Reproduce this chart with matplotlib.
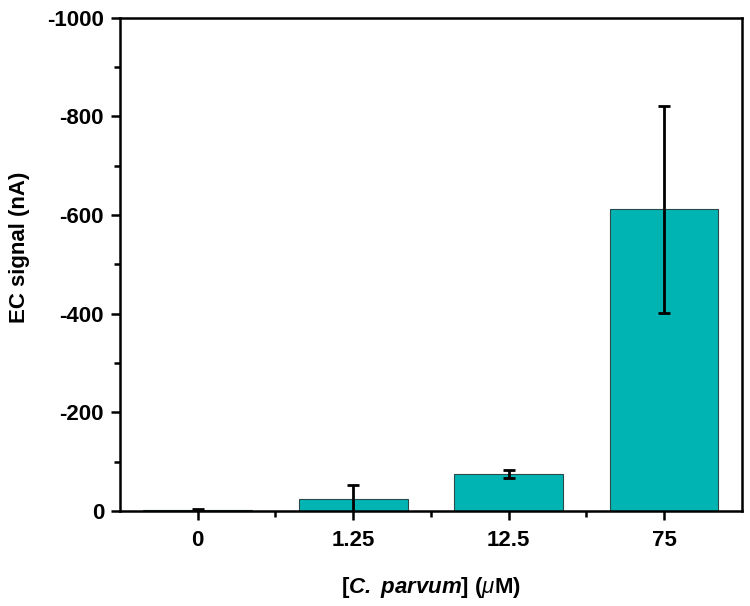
import matplotlib
matplotlib.use("Agg")
import matplotlib.pyplot as plt
from matplotlib.ticker import MultipleLocator

# data (EC signal is negative current)
categories = ["0", "1.25", "12.5", "75"]
signal     = [-2, -25, -75, -611]
errors     = [2, 27, 8, 210]

BAR_COLOR  = "#00b4b4"
EDGE_COLOR = "#2a4a4a"

plt.rcParams["font.family"] = ["Liberation Sans", "DejaVu Sans"]
plt.rcParams["axes.unicode_minus"] = False
plt.rcParams["mathtext.fontset"] = "custom"
plt.rcParams["mathtext.rm"] = "Liberation Sans"
plt.rcParams["mathtext.it"] = "Liberation Sans:italic"
plt.rcParams["mathtext.bfit"] = "Liberation Sans:italic:bold"

fig = plt.figure(figsize=(7.5, 6.06), dpi=100)
ax = fig.add_axes([0.16, 0.157, 0.829, 0.814])

x = range(len(categories))
ax.bar(x, signal, width=0.7, color=BAR_COLOR, edgecolor=EDGE_COLOR, linewidth=0.8, zorder=2)
ax.errorbar(x, signal, yerr=errors, fmt="none", ecolor="black",
            elinewidth=2, capsize=4, capthick=2, zorder=3)

ax.set_xlim(-0.5, 3.5)
ax.set_ylim(0, -1000)
ax.set_xticks(list(x))
ax.set_xticklabels(categories)
ax.set_xticks([0.5, 1.5, 2.5], minor=True)
ax.set_yticks([0, -200, -400, -600, -800, -1000])
ax.yaxis.set_minor_locator(MultipleLocator(100))

for s in ax.spines.values():
  s.set_linewidth(1.8)

ax.tick_params(which="major", direction="out", length=6.5, width=1.8, labelsize=16)
ax.tick_params(which="minor", direction="out", length=4, width=1.8)
ax.tick_params(axis="x", which="major", pad=7)
ax.tick_params(axis="y", which="major", pad=5)
for lbl in ax.get_xticklabels() + ax.get_yticklabels():
  lbl.set_fontweight("bold")

ax.set_ylabel("EC signal (nA)", fontsize=16, fontweight="bold")
ax.yaxis.set_label_coords(-0.145, 0.535)
ax.set_xlabel(r"[$\mathbfit{C.}$ $\mathbfit{parvum}$] ($\mu$M)", fontsize=16, fontweight="bold")
ax.xaxis.set_label_coords(0.5, -0.13)

plt.savefig("out.png", dpi=100)
